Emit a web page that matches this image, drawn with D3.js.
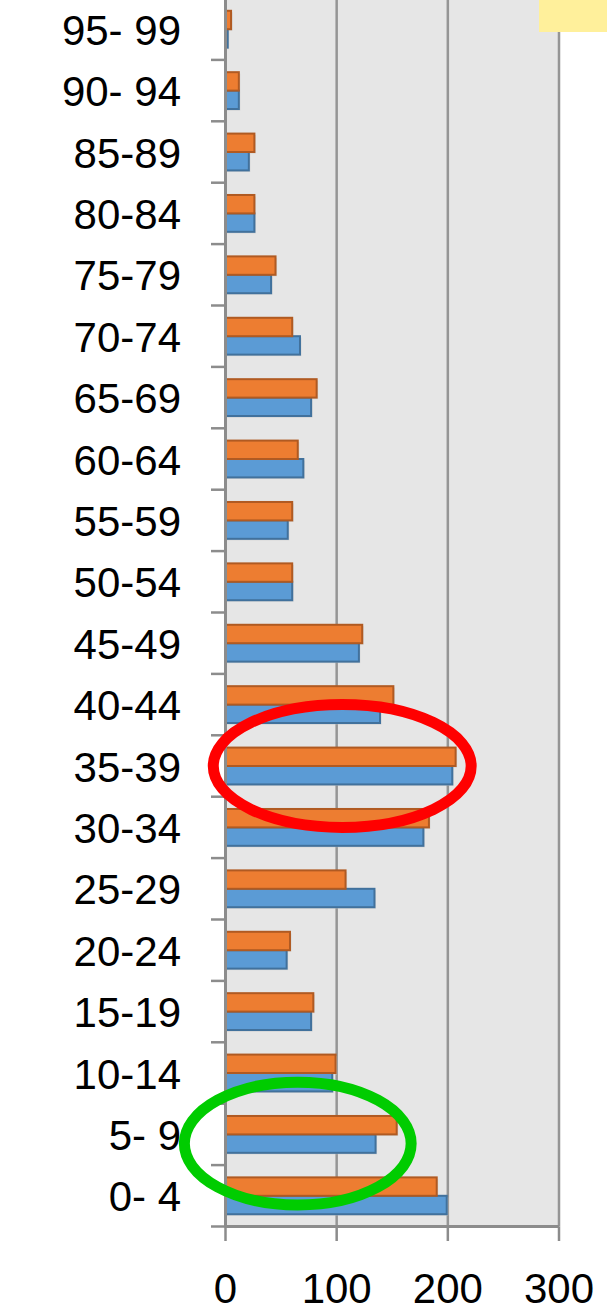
<!DOCTYPE html>
<html>
<head>
<meta charset="utf-8">
<script src="https://cdn.jsdelivr.net/npm/d3@7"></script>
<style>
  html, body { margin: 0; padding: 0; background: #fff; }
  svg { display: block; }
</style>
</head>
<body>
<svg id="chart" width="607" height="1311"></svg>
<script>
// ---- data (bottom to top) ----
const categories = ["0- 4","5- 9","10-14","15-19","20-24","25-29","30-34","35-39","40-44","45-49",
                    "50-54","55-59","60-64","65-69","70-74","75-79","80-84","85-89","90- 94","95- 99"];
const seriesBlue   = [199,135,96,77,55,134,178,204,139,120,60,56,70,77,67,41,26,21,12,2];
const seriesOrange = [190,154,99,79,58,108,183,207,151,123,60,60,65,82,60,45,26,26,12,5];
const xTicks = [0,100,200,300];
// annotation ellipses: category, centre value, x radius (units), y radius (bands), colour
const highlightCats   = ["35-39","5- 9"];
const highlightCx     = [105, 65];
const highlightRx     = [116, 102];
const highlightRy     = [1.0, 1.0];
const highlightDy     = [0, 0.15];
const highlightColors = ["#ff0000","#00cc00"];

(function(){
const svg = d3.select("#chart");
const pLeft = 225.5, pRight = 559, pTop = -1.5, pBottom = 1226.5;

const x = d3.scaleLinear().domain([0,300]).range([pLeft,pRight]);
const y = d3.scaleBand().domain(categories.slice().reverse()).range([pTop,pBottom]);
const bw = y.bandwidth();
const barH = bw*0.3;

// plot background
svg.append("rect").attr("x",pLeft).attr("y",pTop).attr("width",pRight-pLeft).attr("height",pBottom-pTop).attr("fill","#e6e6e6");

// gridlines
svg.append("g").selectAll("line").data(xTicks.filter(d=>d>0)).join("line")
  .attr("x1",d=>x(d)).attr("x2",d=>x(d)).attr("y1",pTop).attr("y2",pBottom)
  .attr("stroke","#959595").attr("stroke-width",2.5);

// bars
const data = categories.map((c,i)=>({c, b:seriesBlue[i], o:seriesOrange[i]}));
const g = svg.append("g");
g.selectAll("rect.sb").data(data).join("rect").attr("class","sb")
  .attr("x",pLeft+1.5).attr("y",d=>y(d.c)+bw/2+1.5)
  .attr("width",d=>Math.max(0,x(d.b)-pLeft)).attr("height",barH)
  .attr("fill","#c8c8c8").attr("opacity",0.6);
g.selectAll("rect.so").data(data).join("rect").attr("class","so")
  .attr("x",pLeft+1.5).attr("y",d=>y(d.c)+bw/2-barH+1.5)
  .attr("width",d=>Math.max(0,x(d.o)-pLeft)).attr("height",barH)
  .attr("fill","#c8c8c8").attr("opacity",0.6);
g.selectAll("rect.blue").data(data).join("rect").attr("class","blue")
  .attr("x",pLeft).attr("y",d=>y(d.c)+bw/2)
  .attr("width",d=>x(d.b)-pLeft).attr("height",barH)
  .attr("fill","#5b9bd5").attr("stroke","#41719c").attr("stroke-width",2);
g.selectAll("rect.orange").data(data).join("rect").attr("class","orange")
  .attr("x",pLeft).attr("y",d=>y(d.c)+bw/2-barH)
  .attr("width",d=>x(d.o)-pLeft).attr("height",barH)
  .attr("fill","#ed7d31").attr("stroke","#b05a22").attr("stroke-width",2);

// left axis
const axisCol = "#8c8c8c";
svg.append("line").attr("x1",pLeft).attr("x2",pLeft).attr("y1",pTop).attr("y2",pBottom+1)
  .attr("stroke",axisCol).attr("stroke-width",3);
const bounds = d3.range(categories.length+1).map(i=>pTop+i*bw);
svg.append("g").selectAll("line").data(bounds).join("line")
  .attr("x1",211).attr("x2",pLeft).attr("y1",d=>d).attr("y2",d=>d)
  .attr("stroke",axisCol).attr("stroke-width",2.5);
svg.append("g").selectAll("text").data(categories).join("text")
  .attr("x",181).attr("y",d=>y(d)+bw/2+15.5)
  .attr("text-anchor","end")
  .attr("font-family","'Liberation Sans', Arial, sans-serif").attr("font-size",42)
  .attr("fill","#000").text(d=>d);

// bottom axis
svg.append("line").attr("x1",pLeft).attr("x2",pRight).attr("y1",pBottom).attr("y2",pBottom)
  .attr("stroke",axisCol).attr("stroke-width",3);
svg.append("g").selectAll("line").data(xTicks).join("line")
  .attr("x1",d=>x(d)).attr("x2",d=>x(d)).attr("y1",pBottom).attr("y2",1241)
  .attr("stroke",axisCol).attr("stroke-width",2.5);
svg.append("g").selectAll("text").data(xTicks).join("text")
  .attr("x",d=>x(d)).attr("y",1303)
  .attr("text-anchor","middle")
  .attr("font-family","'Liberation Sans', Arial, sans-serif").attr("font-size",42)
  .attr("fill","#000").text(d=>d);

// highlight ellipses
svg.append("g").selectAll("ellipse").data(highlightCats).join("ellipse")
  .attr("cx",(d,i)=>x(highlightCx[i]))
  .attr("cy",(d,i)=>y(d)+bw/2+highlightDy[i]*bw)
  .attr("rx",(d,i)=>x(highlightRx[i])-x(0))
  .attr("ry",(d,i)=>highlightRy[i]*bw)
  .attr("fill","none")
  .attr("stroke",(d,i)=>highlightColors[i])
  .attr("stroke-width",11);

// yellow note box (top right)
svg.append("rect").attr("x",539).attr("y",0).attr("width",68).attr("height",32).attr("fill","#fff09b");
})();
</script>
</body>
</html>
